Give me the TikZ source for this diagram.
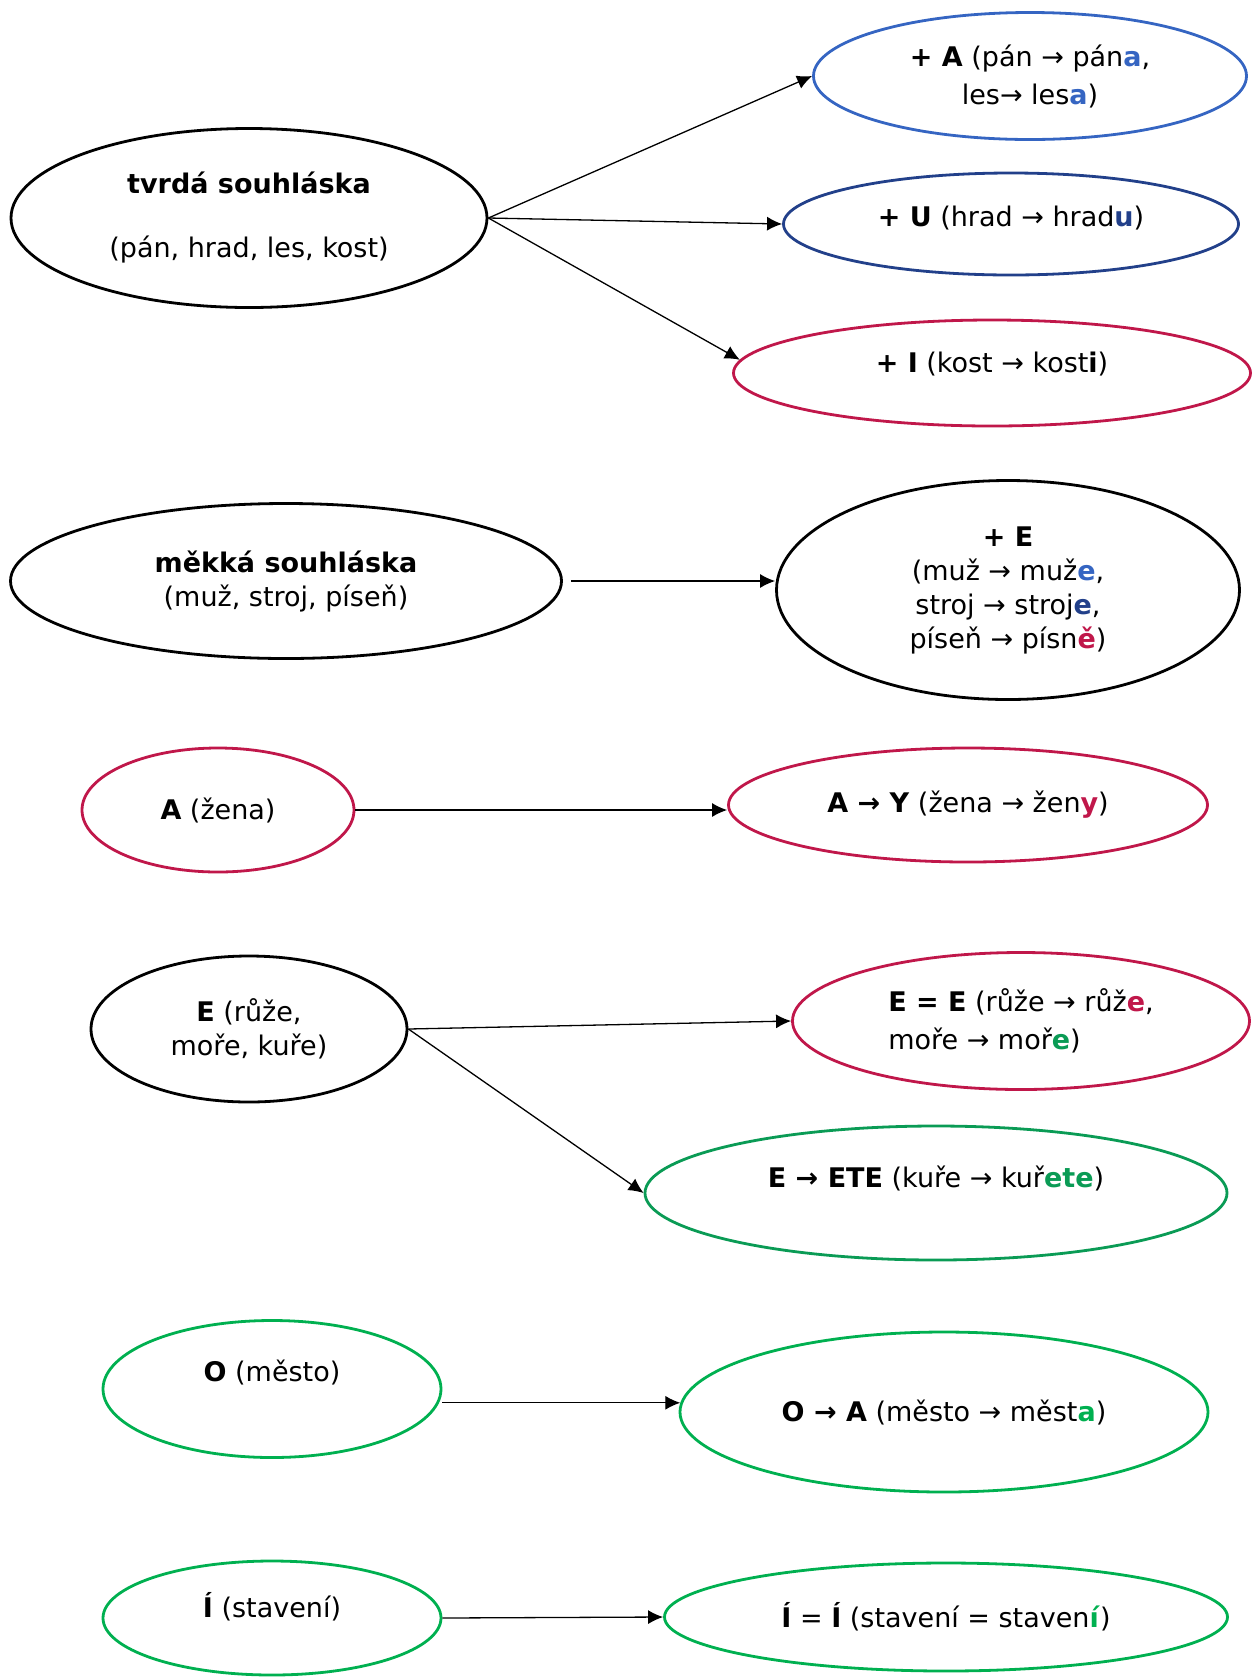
\documentclass[tikz,border=0pt]{standalone}
\usepackage{fontspec}
\setmainfont{DejaVu Sans}
\usetikzlibrary{shapes.geometric,arrows.meta}

\definecolor{blueA}{HTML}{3565C2}
\definecolor{darkblue}{HTML}{22408A}
\definecolor{crimson}{HTML}{C0174A}
\definecolor{greenA}{HTML}{0A9B55}
\definecolor{greenB}{HTML}{00B050}

\newcommand\kon[2]{\textcolor{#1}{\textbf{#2}}}

\begin{document}
\begin{tikzpicture}[x=0.5pt,y=-0.5pt,
   blob/.style={ellipse,draw=#1,line width=1.4pt,inner sep=0pt,align=center,
                font=\fontsize{13.5}{17}\selectfont},
   link/.style={-{Latex[length=7.5pt,width=7pt]},line width=0.65pt}]
   \useasboundingbox (0,0) rectangle (1257,1677);

   % tvrda souhlaska
   \node[blob=black,minimum width=238pt,minimum height=89.5pt] (tvrda) at (249,218)
      {\textbf{tvrdá souhláska}\\[15pt](pán, hrad, les, kost)};
   \node[blob=blueA,minimum width=216.5pt,minimum height=63.5pt] (plusA) at (1030,76)
      {\textbf{+ A} (pán → pán\kon{blueA}{a},\\[2pt]les→ les\kon{blueA}{a})};
   \node[blob=darkblue,minimum width=227.5pt,minimum height=51pt,text depth=7.8pt] (plusU) at (1011,224)
      {\textbf{+ U} (hrad → hrad\kon{darkblue}{u})};
   \node[blob=crimson,minimum width=258.5pt,minimum height=53pt,text depth=10.8pt] (plusI) at (992,373)
      {\textbf{+ I} (kost → kost\textbf{i})};
   \draw[link] (tvrda.east) -- (plusA.west);
   \draw[link] (tvrda.east) -- (plusU.west);
   \draw[link] (tvrda.east) -- (plusI.177);

   % mekka souhlaska
   \node[blob=black,minimum width=275.5pt,minimum height=77.5pt] (mekka) at (286,581)
      {\textbf{měkká souhláska}\\(muž, stroj, píseň)};
   \node[blob=black,minimum width=231.5pt,minimum height=109.5pt] (plusE) at (1008,590)
      {\textbf{+ E}\\(muž → muž\kon{blueA}{e},\\stroj → stroj\kon{darkblue}{e},\\píseň → písn\kon{crimson}{ě})};
   \draw[link] ([xshift=4pt]mekka.east) -- (mekka.east -| plusE.west);

   % zena
   \node[blob=crimson,minimum width=136pt,minimum height=62pt] (zena) at (218,810)
      {\textbf{A} (žena)};
   \node[blob=crimson,minimum width=239.5pt,minimum height=57pt] (zenaY) at (968,805)
      {\textbf{A → Y} (žena → žen\kon{crimson}{y})};
   \draw[link] (zena.east) -- (zena.east -| zenaY.west);

   % ruze, more, kure
   \node[blob=black,minimum width=158pt,minimum height=73pt] (ruze) at (249,1029)
      {\textbf{E} (růže,\\moře, kuře)};
   \node[blob=crimson,minimum width=228.5pt,minimum height=68.5pt,align=left] (ruzeE) at (1021,1021)
      {\textbf{E = E} (růže → růž\kon{crimson}{e},\\[2pt]moře → moř\kon{greenA}{e})};
   \node[blob=greenA,minimum width=291pt,minimum height=67pt,text depth=16.8pt] (kure) at (936,1193)
      {\textbf{E → ETE} (kuře → kuř\kon{greenA}{ete})};
   \draw[link] (ruze.east) -- (ruzeE.west);
   \draw[link] (ruze.east) -- (kure.west);

   % mesto
   \node[blob=greenB,minimum width=169pt,minimum height=68.5pt,text depth=17.8pt] (mesto) at (272,1389)
      {\textbf{O} (město)};
   \node[blob=greenB,minimum width=264pt,minimum height=80pt] (mestoA) at (944,1412)
      {\textbf{O → A} (město → měst\kon{greenB}{a})};
   \draw[link] (mesto.east |- mestoA.178) -- (mestoA.178);

   % staveni
   \node[blob=greenB,minimum width=169pt,minimum height=57pt,text depth=12.8pt] (staveni) at (272,1618)
      {\textbf{Í} (stavení)};
   \node[blob=greenB,minimum width=281.5pt,minimum height=54pt] (staveniI) at (946,1617)
      {\textbf{Í} = \textbf{Í} (stavení = staven\kon{greenB}{í})};
   \draw[link] (staveni.east) -- (staveniI.west);

\end{tikzpicture}
\end{document}
